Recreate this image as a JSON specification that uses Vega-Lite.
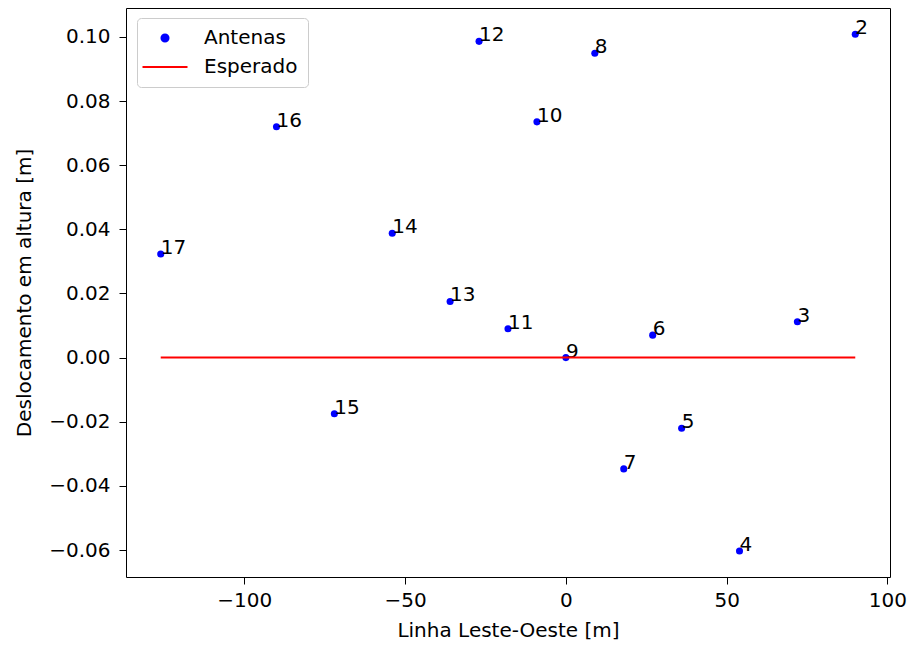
{
  "$schema": "https://vega.github.io/schema/vega-lite/v6.json",
  "width": 764,
  "height": 569,
  "autosize": "none",
  "padding": {"left": 126, "top": 8, "right": 21, "bottom": 71},
  "config": {
    "font": "DejaVu Sans",
    "view": {"stroke": "black", "strokeWidth": 1},
    "axis": {
      "grid": false,
      "domain": false,
      "tickColor": "black",
      "tickSize": 7,
      "labelColor": "black",
      "labelFontSize": 20,
      "titleFontSize": 20,
      "titleFontWeight": "normal",
      "titleColor": "black"
    },
    "legend": {
      "orient": "none",
      "legendX": 11,
      "legendY": 10,
      "padding": 10,
      "strokeColor": "#cccccc",
      "fillColor": "white",
      "cornerRadius": 4,
      "labelFontSize": 20,
      "labelColor": "black",
      "labelOffset": 29,
      "symbolOffset": 8,
      "rowPadding": 9
    }
  },
  "datasets": {
    "antenas": [
      {"n": "2", "x": 90, "y": 0.1008, "s": "Antenas"},
      {"n": "3", "x": 72, "y": 0.0112, "s": "Antenas"},
      {"n": "4", "x": 54, "y": -0.0603, "s": "Antenas"},
      {"n": "5", "x": 36, "y": -0.0220, "s": "Antenas"},
      {"n": "6", "x": 27, "y": 0.0070, "s": "Antenas"},
      {"n": "7", "x": 18, "y": -0.0347, "s": "Antenas"},
      {"n": "8", "x": 9, "y": 0.0949, "s": "Antenas"},
      {"n": "9", "x": 0, "y": 0.0000, "s": "Antenas"},
      {"n": "10", "x": -9, "y": 0.0735, "s": "Antenas"},
      {"n": "11", "x": -18, "y": 0.0090, "s": "Antenas"},
      {"n": "12", "x": -27, "y": 0.0986, "s": "Antenas"},
      {"n": "13", "x": -36, "y": 0.0175, "s": "Antenas"},
      {"n": "14", "x": -54, "y": 0.0388, "s": "Antenas"},
      {"n": "15", "x": -72, "y": -0.0175, "s": "Antenas"},
      {"n": "16", "x": -90, "y": 0.0720, "s": "Antenas"},
      {"n": "17", "x": -126, "y": 0.0323, "s": "Antenas"}
    ],
    "esperado": [
      {"x": -126, "y": 0, "s": "Esperado"},
      {"x": 90, "y": 0, "s": "Esperado"}
    ]
  },
  "encoding": {
    "x": {
      "field": "x", "type": "quantitative",
      "scale": {"domain": [-136.8, 100.8], "nice": false, "zero": false},
      "axis": {"values": [-100, -50, 0, 50, 100], "format": "d", "title": "Linha Leste-Oeste [m]", "labelPadding": 6, "titlePadding": 10}
    },
    "y": {
      "field": "y", "type": "quantitative",
      "scale": {"domain": [-0.0684, 0.109], "nice": false, "zero": false},
      "axis": {"values": [-0.06, -0.04, -0.02, 0, 0.02, 0.04, 0.06, 0.08, 0.1], "format": ".2f", "title": "Deslocamento em altura [m]", "labelPadding": 9, "titlePadding": 14}
    }
  },
  "layer": [
    {
      "data": {"name": "antenas"},
      "mark": {"type": "point", "filled": true, "size": 50, "opacity": 1},
      "encoding": {
        "color": {
          "field": "s", "type": "nominal",
          "scale": {"domain": ["Antenas", "Esperado"], "range": ["#0000ff", "#ff0000"]},
          "legend": {
            "title": null,
            "encode": {
              "symbols": {
                "update": {
                  "shape": {"signal": "datum.value === 'Esperado' ? 'stroke' : 'circle'"},
                  "size": {"signal": "datum.value === 'Esperado' ? 2025 : 50"},
                  "fill": {"signal": "datum.value === 'Esperado' ? 'transparent' : '#0000ff'"},
                  "stroke": {"signal": "datum.value === 'Esperado' ? '#ff0000' : 'transparent'"},
                  "strokeWidth": {"value": 2},
                  "opacity": {"value": 1}
                }
              }
            }
          }
        }
      }
    },
    {
      "data": {"name": "antenas"},
      "mark": {"type": "text", "align": "left", "baseline": "alphabetic", "fontSize": 20, "dy": 0, "color": "black"},
      "encoding": {"text": {"field": "n"}}
    },
    {
      "data": {"name": "esperado"},
      "mark": {"type": "line", "strokeWidth": 2},
      "encoding": {
        "color": {
          "field": "s", "type": "nominal",
          "legend": {
            "title": null,
            "encode": {
              "symbols": {
                "update": {
                  "shape": {"signal": "datum.value === 'Esperado' ? 'stroke' : 'circle'"},
                  "size": {"signal": "datum.value === 'Esperado' ? 2025 : 50"},
                  "fill": {"signal": "datum.value === 'Esperado' ? 'transparent' : '#0000ff'"},
                  "stroke": {"signal": "datum.value === 'Esperado' ? '#ff0000' : 'transparent'"},
                  "strokeWidth": {"value": 2},
                  "opacity": {"value": 1}
                }
              }
            }
          }
        }
      }
    }
  ]
}
